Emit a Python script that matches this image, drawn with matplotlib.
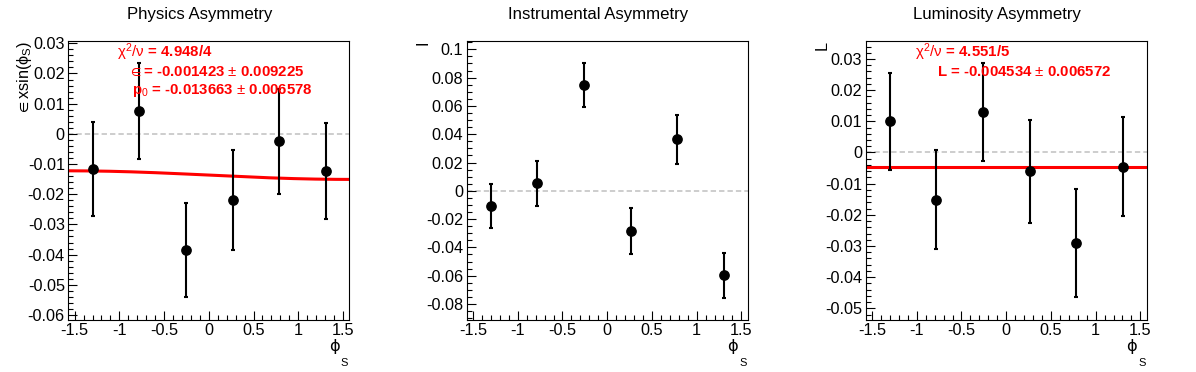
import numpy as np
import matplotlib
matplotlib.use("Agg")
import matplotlib.pyplot as plt
from matplotlib.ticker import MultipleLocator, FuncFormatter

# ---------------- data ----------------
phi_s = [-1.30, -0.78, -0.26, 0.27, 0.78, 1.31]
errors = [0.0155, 0.0160, 0.0157, 0.0166, 0.0173, 0.0159]

physics_vals = [-0.0116, 0.0076, -0.0385, -0.0220, -0.0025, -0.0124]
instrumental_vals = [-0.0110, 0.0053, 0.0746, -0.0284, 0.0364, -0.0597]
luminosity_vals = [0.0100, -0.0151, 0.0129, -0.0061, -0.0291, -0.0045]

titles = ["Physics Asymmetry", "Instrumental Asymmetry", "Luminosity Asymmetry"]
ylabels = [r"$\in$xsin($\phi_{S}$)", "I", "L"]

# fit results
phys_eps, phys_p0 = -0.001423, -0.013663
lumi_L = -0.004534

phys_text = [r"$\chi^{2}/\nu$ = 4.948/4",
             r"$\in$= -0.001423 $\pm$ 0.009225",
             r"p$_{0}$ = -0.013663 $\pm$ 0.006578"]
lumi_text = [r"$\chi^{2}/\nu$ = 4.551/5",
             r"L = -0.004534 $\pm$ 0.006572"]

ylims = [(-0.06166, 0.03086), (-0.0913, 0.1061), (-0.05375, 0.03587)]
ymajor = [0.01, 0.02, 0.01]
yminor = [0.002, 0.005, 0.002]

# ---------------- style ----------------
plt.rcParams["font.family"] = ["Liberation Sans", "DejaVu Sans"]
plt.rcParams["mathtext.fontset"] = "custom"
plt.rcParams["mathtext.rm"] = "Liberation Sans"
plt.rcParams["mathtext.it"] = "Liberation Sans"
plt.rcParams["mathtext.bf"] = "Liberation Sans:bold"
plt.rcParams["mathtext.fallback"] = "stixsans"
plt.rcParams["axes.unicode_minus"] = False

W, H = 1196, 372
fig = plt.figure(figsize=(W / 100, H / 100), dpi=100)

lefts = [68.3, 466.7, 865.7]
ax_w, ax_top, ax_bot = 281, 40.7, 320

def fmt(v, pos):
    if abs(v) < 1e-12:
        return "0"
    return "%g" % round(v, 6)

all_vals = [physics_vals, instrumental_vals, luminosity_vals]
TICK_FS = 11.7

for i in range(3):
    ax = fig.add_axes([lefts[i] / W, (H - ax_bot) / H, ax_w / W, (ax_bot - ax_top) / H])
    ax.set_xlim(-np.pi / 2, np.pi / 2)
    ax.set_ylim(*ylims[i])
    ax.xaxis.set_major_locator(MultipleLocator(0.5))
    ax.xaxis.set_minor_locator(MultipleLocator(0.1))
    ax.yaxis.set_major_locator(MultipleLocator(ymajor[i]))
    ax.yaxis.set_minor_locator(MultipleLocator(yminor[i]))
    ax.xaxis.set_major_formatter(FuncFormatter(fmt))
    ax.yaxis.set_major_formatter(FuncFormatter(fmt))
    ax.tick_params(which="both", direction="in", top=False, right=False,
                   labelsize=TICK_FS, pad=2.5, width=0.8)
    ax.tick_params(which="major", length=6.5)
    ax.tick_params(which="minor", length=3.4)
    for sp in ax.spines.values():
        sp.set_linewidth(0.8)

    ax.axhline(0, color="#c0c0c0", lw=1.1, ls=(0, (3.5, 2)), zorder=1)

    ax.errorbar(phi_s, all_vals[i], yerr=errors, fmt="o", color="black",
                ms=6.7, elinewidth=1.5, capsize=1.7, capthick=1.5, zorder=3)

    if i == 0:
        xs = np.linspace(-np.pi / 2, np.pi / 2, 300)
        ax.plot(xs, phys_p0 + phys_eps * np.sin(xs), color="red", lw=2.2, zorder=2)
        pos = [(0.1733, 0.9416), (0.2125, 0.8746), (0.2267, 0.809)]
        for (tx, ty), s in zip(pos, phys_text):
            ax.text(tx, ty, s, transform=ax.transAxes, color="red", fontsize=10.8,
                    fontweight="bold", ha="left", va="baseline", zorder=5)
    if i == 2:
        ax.axhline(lumi_L, color="red", lw=2.2, zorder=2)
        pos = [(0.1754, 0.9416), (0.2537, 0.8746)]
        for (tx, ty), s in zip(pos, lumi_text):
            ax.text(tx, ty, s, transform=ax.transAxes, color="red", fontsize=10.8,
                    fontweight="bold", ha="left", va="baseline", zorder=5)

    # y label (rotated, top-aligned)
    ax.text(-44 / ax_w, 1.0, ylabels[i], rotation=90, ha="center", va="top",
            transform=ax.transAxes, fontsize=TICK_FS)

    # x label phi_S
    ax.annotate("ϕ", xy=(1, 0), xycoords="axes fraction", xytext=(-10, -27),
                textcoords="offset pixels", ha="right", va="center", fontsize=TICK_FS,
                family="DejaVu Sans")
    ax.annotate("S", xy=(1, 0), xycoords="axes fraction", xytext=(-1, -43),
                textcoords="offset pixels", ha="right", va="center", fontsize=8)

    fig.text((i + 0.5) / 3, 1 - 15 / H, titles[i], ha="center", va="center", fontsize=12.1)

fig.savefig("out.png", dpi=100)
